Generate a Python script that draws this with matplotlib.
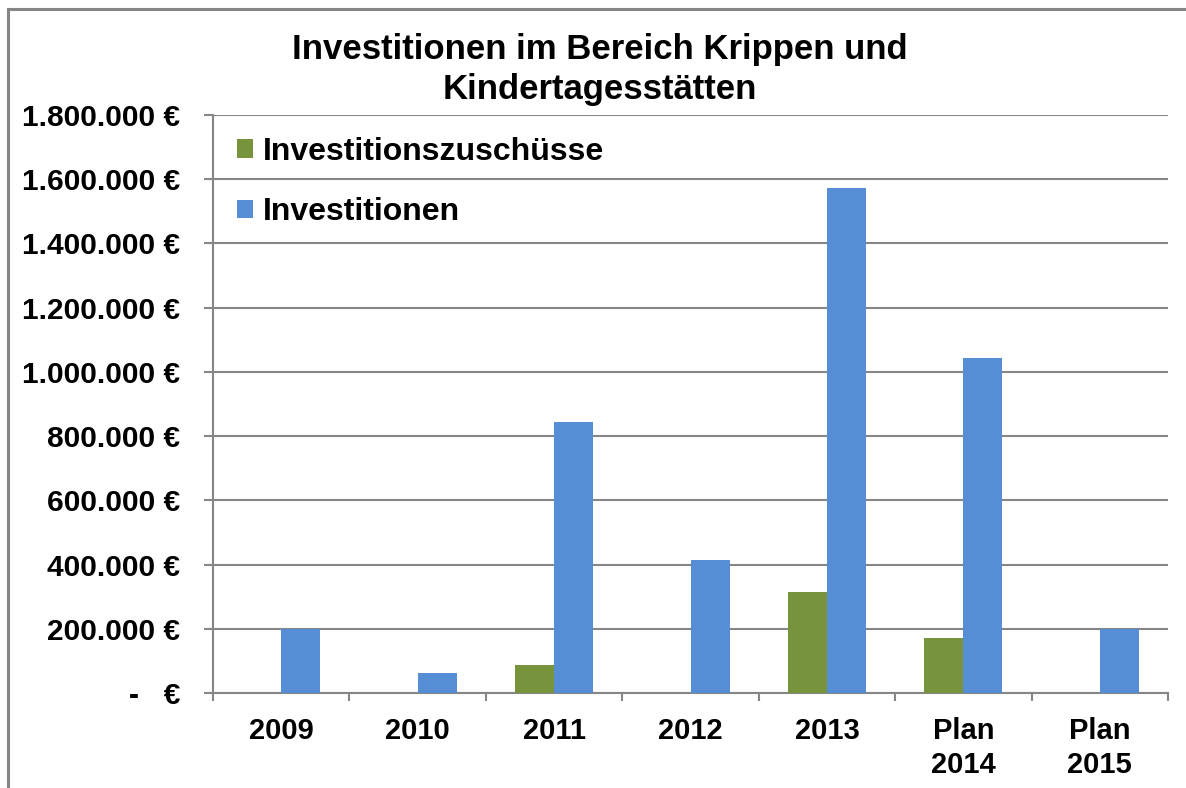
import matplotlib
matplotlib.use('Agg')
import matplotlib.pyplot as plt
import matplotlib.ticker as ticker
from matplotlib.patches import Rectangle
import numpy as np

# data
categories = ['2009', '2010', '2011', '2012', '2013', 'Plan\n2014', 'Plan\n2015']
zuschuesse = [0, 0, 87000, 0, 315000, 171000, 0]
investitionen = [200000, 62000, 844000, 414000, 1573000, 1044000, 200000]
ytick_vals = [0, 200000, 400000, 600000, 800000, 1000000, 1200000, 1400000, 1600000, 1800000]
ytick_labels = ['-   €', '200.000 €', '400.000 €', '600.000 €', '800.000 €',
                '1.000.000 €', '1.200.000 €', '1.400.000 €', '1.600.000 €', '1.800.000 €']

green = '#77933C'
blue = '#558ED5'
gray = '#868686'

plt.rc('font', family='Liberation Sans', weight='bold')

fig = plt.figure(figsize=(11.86, 7.88), dpi=100)
ax = fig.add_axes([213/1186, 1 - 693/788, (1168 - 213)/1186, (693 - 115)/788])

x = np.arange(len(categories))
w = 0.286
ax.bar(x - w/2, zuschuesse, w, color=green, label='Investitionszuschüsse', zorder=3)
ax.bar(x + w/2, investitionen, w, color=blue, label='Investitionen', zorder=3)

ax.set_xlim(-0.5, len(categories) - 0.5)
ax.set_ylim(0, 1800000)

ax.set_yticks(ytick_vals)
ax.set_yticklabels(ytick_labels, fontsize=21.5)
ax.yaxis.grid(True, color=gray, linewidth=1.5, zorder=0)
ax.tick_params(axis='y', length=6.5, width=1.5, color=gray, pad=17)

ax.xaxis.set_major_locator(ticker.FixedLocator(np.arange(-0.5, len(categories), 1)))
ax.xaxis.set_major_formatter(ticker.NullFormatter())
ax.xaxis.set_minor_locator(ticker.FixedLocator(x))
ax.xaxis.set_minor_formatter(ticker.FixedFormatter(categories))
ax.tick_params(axis='x', which='major', length=6, width=1.5, color=gray)
ax.tick_params(axis='x', which='minor', length=0, pad=17, labelsize=21)
for lab in ax.get_xticklabels(minor=True):
    lab.set_linespacing(1.3)

for s in ['top', 'right']:
    ax.spines[s].set_visible(False)
for s in ['left', 'bottom']:
    ax.spines[s].set_color(gray)
    ax.spines[s].set_linewidth(1.5)

ax.legend(loc='upper left', bbox_to_anchor=(-0.005, 1.012), frameon=False,
          prop={'size': 23, 'weight': 'bold'}, handlelength=0.5, handleheight=0.5,
          handletextpad=0.3, labelspacing=0.95, borderaxespad=0.5)

fig.text(0.506, 0.912, 'Investitionen im Bereich Krippen und\nKindertagesstätten',
         ha='center', va='center', fontsize=25, weight='bold', linespacing=1.25)

# outer chart frame
fig.patches.append(Rectangle((8/1186, -0.05), 1.1, 1.05 - 9/788, transform=fig.transFigure,
                             fill=False, edgecolor=gray, linewidth=2.2))

fig.savefig('out.png', dpi=100)
